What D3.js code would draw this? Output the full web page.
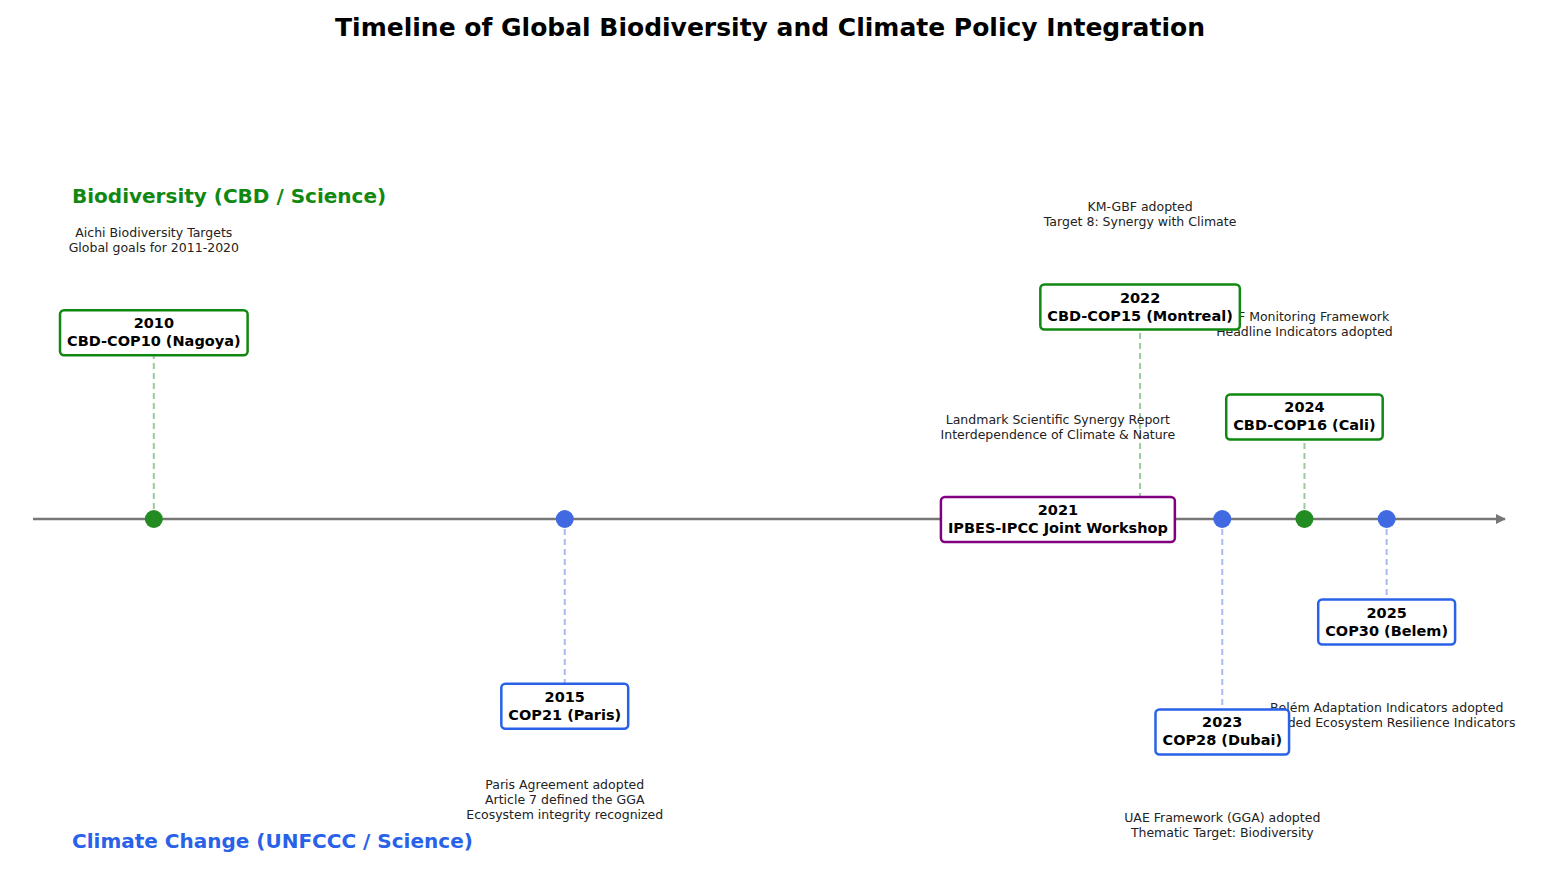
<!DOCTYPE html>
<html><head><meta charset="utf-8">
<script src="https://cdn.jsdelivr.net/npm/d3@7"></script>
<style>body{margin:0;background:#fff;font-family:"DejaVu Sans",sans-serif;}</style>
</head><body><svg id="c" width="1550" height="880"></svg>
<script>
const years = [2010, 2015, 2021, 2022, 2023, 2024, 2025];
const titles = ["CBD-COP10 (Nagoya)", "COP21 (Paris)", "IPBES-IPCC Joint Workshop", "CBD-COP15 (Montreal)", "COP28 (Dubai)", "CBD-COP16 (Cali)", "COP30 (Belem)"];
const notes = [
  ["Aichi Biodiversity Targets", "Global goals for 2011-2020"],
  ["Paris Agreement adopted", "Article 7 defined the GGA", "Ecosystem integrity recognized"],
  ["Landmark Scientific Synergy Report", "Interdependence of Climate & Nature"],
  ["KM-GBF adopted", "Target 8: Synergy with Climate"],
  ["UAE Framework (GGA) adopted", "Thematic Target: Biodiversity"],
  ["GBF Monitoring Framework", "Headline Indicators adopted"],
  ["Belém Adaptation Indicators adopted", "Included Ecosystem Resilience Indicators"]
];
const categories = ["bio", "climate", "science", "bio", "climate", "bio", "climate"];
const levels = [2.55, -2.55, 0, 2.9, -2.9, 1.4, -1.4];

const colors = {bio: "#228B22", climate: "#4169E1", science: "#800080"};
const edge = {bio: "#118811", climate: "#2962e8", science: "#800080"};
const svg = d3.select("#c");
const x = d3.scaleLinear().domain([2008.53, 2026.44]).range([33, 1505]);
const y = d3.scaleLinear().domain([-4, 4]).range([519 + 293, 519 - 293]);
const y0 = y(0);

svg.append("text").attr("x", 770).attr("y", 36).attr("text-anchor", "middle")
  .attr("font-size", 25).attr("font-weight", "bold").text("Timeline of Global Biodiversity and Climate Policy Integration");

svg.append("defs").append("marker").attr("id", "ar").attr("viewBox", "0 0 10 10").attr("refX", 9).attr("refY", 5)
  .attr("markerWidth", 10).attr("markerHeight", 10).attr("markerUnits", "userSpaceOnUse").attr("orient", "auto")
  .append("path").attr("d", "M0,0L10,5L0,10z").attr("fill", "#777");
svg.append("line").attr("x1", x.range()[0]).attr("x2", x.range()[1]).attr("y1", y0).attr("y2", y0)
  .attr("stroke", "#777").attr("stroke-width", 2.5).attr("marker-end", "url(#ar)");

svg.append("text").attr("x", 72).attr("y", 203).attr("font-size", 20).attr("font-weight", "bold").attr("fill", "#118811").text("Biodiversity (CBD / Science)");
svg.append("text").attr("x", 72).attr("y", 848).attr("font-size", 20).attr("font-weight", "bold").attr("fill", "#2962e8").text("Climate Change (UNFCCC / Science)");

const idx = d3.range(years.length);
svg.selectAll(".stem").data(idx.filter(i => levels[i] !== 0)).join("line")
  .attr("x1", i => x(years[i])).attr("x2", i => x(years[i]))
  .attr("y1", y0).attr("y2", i => y(levels[i]))
  .attr("stroke", i => colors[categories[i]]).attr("stroke-opacity", 0.45)
  .attr("stroke-width", 2).attr("stroke-dasharray", "6,4");
svg.selectAll(".dot").data(idx.filter(i => categories[i] !== "science")).join("circle")
  .attr("cx", i => x(years[i])).attr("cy", y0).attr("r", 9).attr("fill", i => colors[categories[i]]);
idx.forEach(i => {
  const dir = levels[i] >= 0 ? -1 : 1;
  const base = y(levels[i]) + dir * 93;
  const n = notes[i].length;
  const t = svg.append("text").attr("text-anchor", "middle").attr("font-size", 12.5).attr("fill", "#222");
  notes[i].forEach((s, k) => t.append("tspan").attr("x", x(years[i])).attr("y", base + (k - (n - 1) / 2) * 15 + 5).text(s));
});
idx.forEach(i => {
  const g = svg.append("g").attr("transform", `translate(${x(years[i])},${y(levels[i])})`);
  const t = g.append("text").attr("text-anchor", "middle").attr("font-size", 14.5).attr("font-weight", "bold");
  t.append("tspan").attr("x", 0).attr("y", -4).text(years[i]);
  t.append("tspan").attr("x", 0).attr("y", 14).text(titles[i]);
  const w = t.node().getBBox().width + 14;
  g.insert("rect", "text").attr("x", -w / 2).attr("y", -22).attr("width", w).attr("height", 45).attr("rx", 4)
    .attr("fill", "#fff").attr("stroke", edge[categories[i]]).attr("stroke-width", 2.5);
});
</script></body></html>
